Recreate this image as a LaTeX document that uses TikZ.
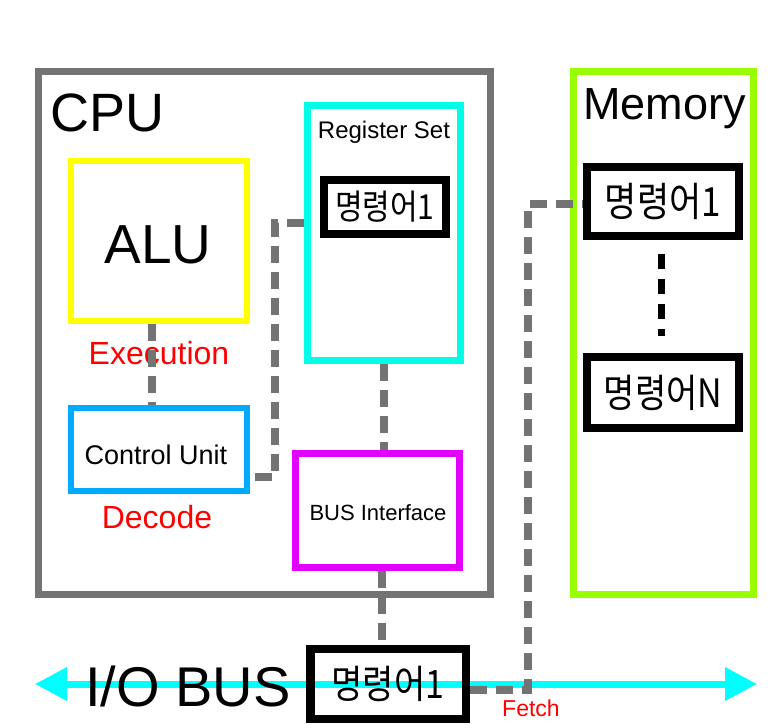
\documentclass[tikz,border=0pt]{standalone}
\usepackage{fontspec}
\setmainfont{Liberation Sans}
\newfontfamily\kr{Noto Sans CJK KR}
\usetikzlibrary{arrows.meta}
\definecolor{boxGray}{RGB}{115, 115, 115}
\definecolor{boxYellow}{RGB}{255, 255, 0}
\definecolor{boxBlue}{RGB}{0, 170, 255}
\definecolor{boxCyan}{RGB}{0, 255, 230}
\definecolor{boxMagenta}{RGB}{226, 0, 255}
\definecolor{boxGreen}{RGB}{153, 255, 0}
\definecolor{busCyan}{RGB}{0, 255, 255}
\newcommand{\tallkr}[1]{\scalebox{1}[1.15]{\kr #1}}

\begin{document}
\begin{tikzpicture}[x=1pt, y=-1pt,
    unit/.style={draw, fill=white, line width=7pt, inner sep=0pt},
    cell/.style={draw=black, fill=white, line width=8pt, inner sep=0pt},
    link/.style={draw=boxGray, line width=8pt, dash pattern=on 17pt off 9pt},
    tag/.style={text=red, inner sep=0pt}]
      \useasboundingbox (0,0) rectangle (777,728);

      % CPU
      \node[unit, draw=boxGray, minimum width=452, minimum height=523] (cpu) at (264,332.5) {};
      \node[anchor=base west, inner sep=0pt, font=\fontsize{54}{58}\selectfont] (cputxt) at (50,131) {CPU};

      \node[unit, draw=boxYellow, line width=6pt, minimum width=176, minimum height=160] (alu) at (159,241) {};
      \node[inner sep=0pt, font=\fontsize{55}{58}\selectfont] (alutxt) at (158,245) {ALU};
      \node[tag, font=\fontsize{32}{34}\selectfont] (exec) at (159,353) {Execution};

      \node[unit, draw=boxBlue, line width=6pt, minimum width=176, minimum height=83] (ctrl) at (159,449.5) {};
      \node[inner sep=0pt, font=\fontsize{27}{30}\selectfont] (ctrltxt) at (156,455) {Control Unit};
      \node[tag, font=\fontsize{32}{34}\selectfont] (decode) at (157,517) {Decode};

      \node[unit, draw=boxCyan, minimum width=152.5, minimum height=255] (regset) at (383.75,232.5) {};
      \node[inner sep=0pt, font=\fontsize{24}{26}\selectfont] (regtxt) at (384,132) {Register Set};
      \node[cell, minimum width=121.5, minimum height=54.5, font=\fontsize{30}{32}\selectfont] (reg1) at (384.75,207) {\tallkr{명령어1}};

      \node[unit, draw=boxMagenta, minimum width=164, minimum height=114] (busif) at (377,510) {};
      \node[inner sep=0pt, font=\fontsize{22}{26}\selectfont] (busiftxt) at (378,513) {BUS Interface};

      % Memory
      \node[unit, draw=boxGreen, minimum width=180, minimum height=523] (mem) at (663.5,333) {};
      \node[anchor=base west, inner sep=0pt, font=\fontsize{45}{48}\selectfont] (memtxt) at (583,119) {Memory};
      \node[cell, minimum width=152, minimum height=69, font=\fontsize{35}{38}\selectfont] (mem1) at (663,201.5) {\tallkr{명령어1}};
      \node[cell, minimum width=152, minimum height=71, font=\fontsize{34}{38}\selectfont] (memN) at (663,392.5) {\tallkr{명령어N}};
      \draw[black, line width=7pt, dash pattern=on 15pt off 10pt, shorten <=14pt, shorten >=17pt]
        ([xshift=-2pt]mem1.south) -- ([xshift=-2pt]memN.north);

      % I/O bus
      \coordinate (busL) at (35,684);
      \coordinate (busR) at (757,684);
      \draw[busCyan, line width=7pt, {Triangle[length=32pt, width=32pt]}-{Triangle[length=32pt, width=32pt]}] (busL) -- (busR);
      \node[anchor=west, inner sep=0pt, font=\fontsize{56}{60}\selectfont] (iobus) at (85,686) {I/O BUS};
      \node[cell, fill=none, line width=8.5pt, minimum width=155.5, minimum height=70, font=\fontsize{34}{36}\selectfont] (bus1) at (388,684) {\tallkr{명령어1}};

      % dashed links
      \draw[link] ([xshift=-7pt]alu.south) -- ([xshift=-7pt]ctrl.north);
      \path ([yshift=-16pt]reg1.west) coordinate (regout);
      \coordinate (bend) at (275,477);
      \draw[link] (regout -| regset.west) -| (bend) -- ([yshift=-27.5pt]ctrl.east);
      \draw[link] (regset.south) -- (regset.south |- busif.north);
      \draw[link] ([xshift=5pt]busif.south) -- ([xshift=5pt]busif.south |- bus1.north);
      \coordinate (fetchup) at (528,204);
      \draw[link] ([yshift=-6pt]bus1.east) -| (fetchup) -- ([yshift=-2.5pt]mem1.west);
      \node[tag, font=\fontsize{23}{26}\selectfont] (fetch) at (531,708) {Fetch};
    \end{tikzpicture}
\end{document}
